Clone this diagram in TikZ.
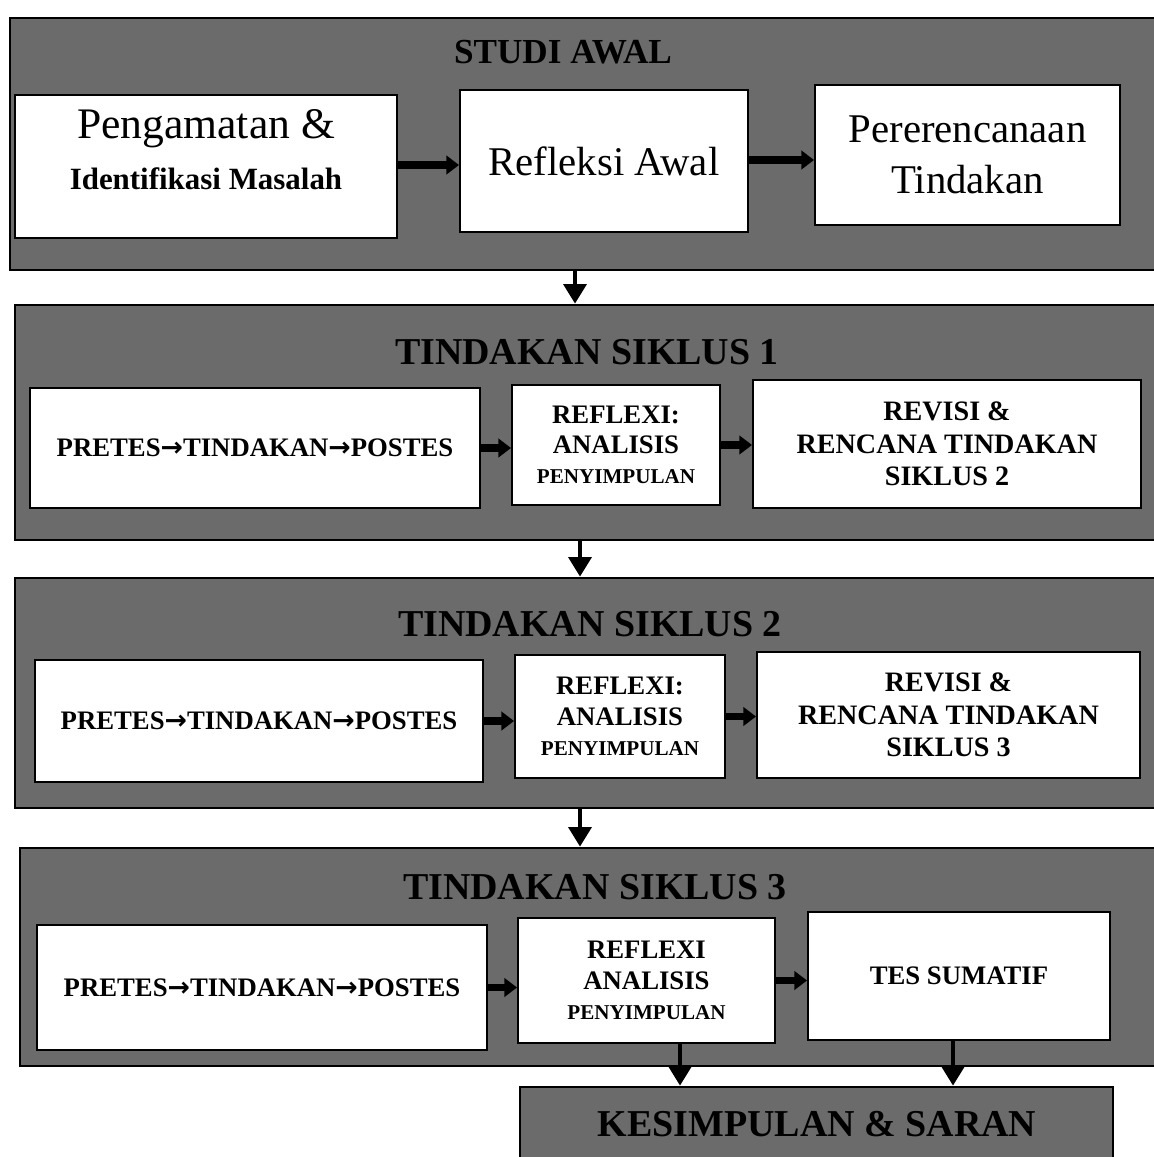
\documentclass[tikz,border=0pt]{standalone}
\usepackage{fontspec}
\setmainfont{Liberation Serif}
\newfontfamily\arrowfont{DejaVu Sans}
\usetikzlibrary{arrows.meta, positioning, fit}
\definecolor{panelgray}{gray}{0.42}
\newcommand{\smalltxt}{\fontsize{15}{18}\selectfont}
\newcommand{\nextstep}{{\arrowfont\bfseries →}}

\begin{document}
\begin{tikzpicture}[x=0.025cm, y=-0.025cm,
                panel/.style={draw, line width=1.8pt, fill=panelgray, inner sep=0pt},
                box/.style={draw, line width=1.3pt, fill=white, inner sep=0pt, align=center,
                            font=\bfseries\fontsize{19}{21.5}\selectfont},
                heading/.style={font=\bfseries\fontsize{27}{30}\selectfont},
                flow/.style={-{Triangle[length=9pt, width=13pt]}, line width=5pt},
                down/.style={-{Triangle[length=14pt, width=16pt]}, line width=3.5pt}]
                \useasboundingbox (0,0) rectangle (1153,1157);

                % Studi awal
                \node[panel, fit={(10,18) (1165,270)}] (studi) {};
                \node[heading, font=\bfseries\fontsize{25}{30}\selectfont] (tstudi) at (563,52) {STUDI AWAL};
                \node[box, font=\fontsize{31}{34}\selectfont, minimum width=9.55cm, minimum height=3.575cm]
                    (amat) at (206,166.5) {Pengamatan \&\\[2pt]{\bfseries\fontsize{22}{26}\selectfont Identifikasi Masalah}\\[-10pt]};
                \node[box, font=\fontsize{29}{34}\selectfont, minimum width=7.2cm, minimum height=3.55cm]
                    (awal) at (604,161) {Refleksi Awal};
                \node[box, font=\fontsize{29}{36}\selectfont, minimum width=7.625cm, minimum height=3.5cm]
                    (renc) at (967.5,155) {Pererencanaan\\Tindakan};

                % Siklus 1
                \node[panel, fit={(15,305) (1165,540)}] (sik1) {};
                \node[heading] (tsik1) at (587,352) {TINDAKAN SIKLUS 1};
                \node[box, minimum width=11.25cm, minimum height=3cm] (pre1) at (255,448)
                    {PRETES\nextstep TINDAKAN\nextstep POSTES};
                \node[box, minimum width=5.2cm, minimum height=3cm] (ref1) at (616,445)
                    {REFLEXI:\\ANALISIS\\{\smalltxt PENYIMPULAN}};
                \node[box, font=\bfseries\fontsize{20}{23}\selectfont, minimum width=9.7cm, minimum height=3.2cm]
                    (rev1) at (947,444) {REVISI \&\\RENCANA TINDAKAN\\SIKLUS 2};

                % Siklus 2
                \node[panel, fit={(15,578) (1165,808)}] (sik2) {};
                \node[heading] (tsik2) at (590,624) {TINDAKAN SIKLUS 2};
                \node[box, minimum width=11.2cm, minimum height=3.05cm] (pre2) at (259,721)
                    {PRETES\nextstep TINDAKAN\nextstep POSTES};
                \node[box, minimum width=5.25cm, minimum height=3.075cm] (ref2) at (620,716.5)
                    {REFLEXI:\\ANALISIS\\{\smalltxt PENYIMPULAN}};
                \node[box, font=\bfseries\fontsize{20}{23}\selectfont, minimum width=9.575cm, minimum height=3.15cm]
                    (rev2) at (948.5,715) {REVISI \&\\RENCANA TINDAKAN\\SIKLUS 3};

                % Siklus 3
                \node[panel, fit={(20,848) (1165,1066)}] (sik3) {};
                \node[heading] (tsik3) at (595,887) {TINDAKAN SIKLUS 3};
                \node[box, minimum width=11.25cm, minimum height=3.125cm] (pre3) at (262,987.5)
                    {PRETES\nextstep TINDAKAN\nextstep POSTES};
                \node[box, minimum width=6.425cm, minimum height=3.125cm] (ref3) at (646.5,980.5)
                    {REFLEXI\\ANALISIS\\{\smalltxt PENYIMPULAN}};
                \node[box, minimum width=7.55cm, minimum height=3.2cm] (tes) at (959,976) {TES SUMATIF};

                % Kesimpulan
                \node[panel, fit={(520,1087) (1113,1170)}] (hasil) {};
                \node[heading] (thasil) at (817,1124) {KESIMPULAN \& SARAN};

                % Arrows inside the panels
                \draw[flow] (amat.east |- 0,165) -- (awal.west |- 0,165);
                \draw[flow] (awal.east |- 0,160) -- (renc.west |- 0,160);
                \foreach \a/\b/\c in {pre1/ref1/rev1, pre2/ref2/rev2, pre3/ref3/tes} {
                    \draw[flow] (\a.east) -- (\a.east -| \b.west);
                    \draw[flow] (\b.east) -- (\b.east -| \c.west);
                }

                % Arrows between the panels
                \draw[down] (studi.south -| 575,0) -- (sik1.north -| 575,0);
                \draw[down] (sik1.south -| 580,0) -- (sik2.north -| 580,0);
                \draw[down] (sik2.south -| 580,0) -- (sik3.north -| 580,0);
                \draw[down] (ref3.south -| 680,0) -- (hasil.north -| 680,0);
                \draw[down] (tes.south -| 953,0) -- (hasil.north -| 953,0);
\end{tikzpicture}
\end{document}
